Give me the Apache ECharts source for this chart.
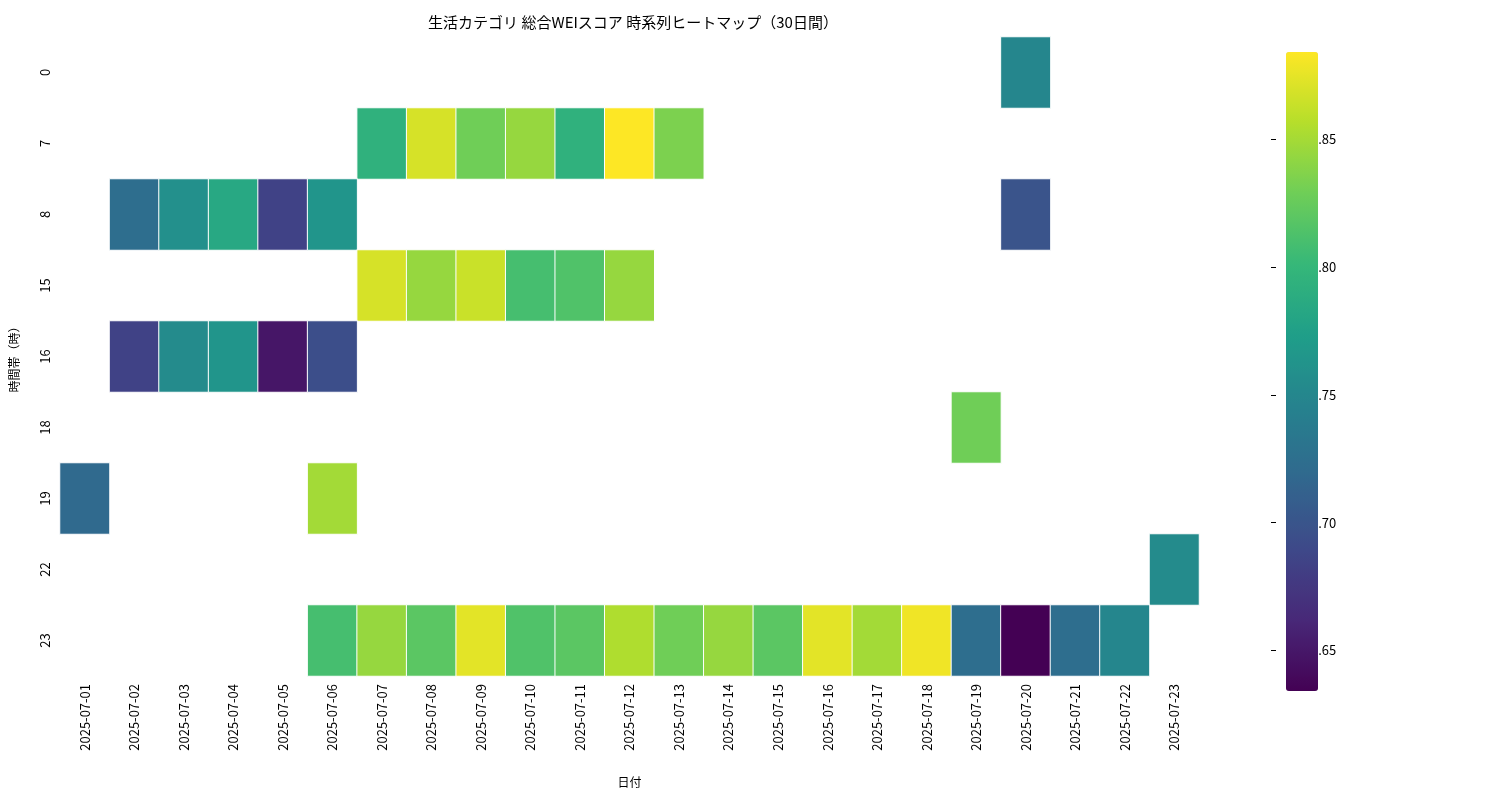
<!DOCTYPE html>
<html><head><meta charset="utf-8">
<script src="https://cdn.jsdelivr.net/npm/echarts@6/dist/echarts.min.js"></script>
<style>html,body{margin:0;background:#fff}#c{width:1500px;height:800px}</style>
</head><body><div id="c"></div>
<script>
const dates = ['2025-07-01','2025-07-02','2025-07-03','2025-07-04','2025-07-05','2025-07-06','2025-07-07','2025-07-08','2025-07-09','2025-07-10','2025-07-11','2025-07-12','2025-07-13','2025-07-14','2025-07-15','2025-07-16','2025-07-17','2025-07-18','2025-07-19','2025-07-20','2025-07-21','2025-07-22','2025-07-23'];
const hours = ['0','7','8','15','16','18','19','22','23'];
// [date, hour, value]
const row0 = [['2025-07-20',0.755]];
const row7 = [['2025-07-07',0.80],['2025-07-08',0.875],['2025-07-09',0.835],['2025-07-10',0.85],['2025-07-11',0.80],['2025-07-12',0.89],['2025-07-13',0.84]];
const row8 = [['2025-07-02',0.73],['2025-07-03',0.765],['2025-07-04',0.79],['2025-07-05',0.69],['2025-07-06',0.77],['2025-07-20',0.705]];
const row15 = [['2025-07-07',0.875],['2025-07-08',0.85],['2025-07-09',0.87],['2025-07-10',0.815],['2025-07-11',0.82],['2025-07-12',0.85]];
const row16 = [['2025-07-02',0.69],['2025-07-03',0.76],['2025-07-04',0.77],['2025-07-05',0.655],['2025-07-06',0.70]];
const row18 = [['2025-07-19',0.835]];
const row19 = [['2025-07-01',0.725],['2025-07-06',0.855]];
const row22 = [['2025-07-23',0.76]];
const row23 = [['2025-07-06',0.815],['2025-07-07',0.85],['2025-07-08',0.825],['2025-07-09',0.88],['2025-07-10',0.82],['2025-07-11',0.825],['2025-07-12',0.86],['2025-07-13',0.835],['2025-07-14',0.85],['2025-07-15',0.825],['2025-07-16',0.88],['2025-07-17',0.855],['2025-07-18',0.885],['2025-07-19',0.73],['2025-07-20',0.64],['2025-07-21',0.73],['2025-07-22',0.755]];
const rows = {'0':row0,'7':row7,'8':row8,'15':row15,'16':row16,'18':row18,'19':row19,'22':row22,'23':row23};
const colorTicks = [0.65,0.70,0.75,0.80,0.85];
const vmin = 0.64, vmax = 0.89;
const data = [];
for (const h of hours) for (const [d,v] of rows[h]) data.push([d,h,v]);
const font = 'Noto Sans CJK JP';
const chart = echarts.init(document.getElementById('c'));
chart.setOption({
  textStyle:{fontFamily:font},
  title:{text:'生活カテゴリ 総合WEIスコア 時系列ヒートマップ（30日間）',left:628,top:10,textAlign:'center',textStyle:{fontSize:15,fontWeight:'normal',color:'#000',fontFamily:font}},
  grid:[{left:57,right:301,top:37,bottom:124},{left:1271,width:32,top:37,bottom:124,show:false}],
  xAxis:[{type:'category',data:dates,gridIndex:0,name:'日付',nameLocation:'middle',nameGap:100,nameTextStyle:{color:'#000',fontSize:12},
    axisLine:{show:false},axisTick:{alignWithLabel:true,length:5,lineStyle:{color:'#000'}},splitLine:{show:false},
    axisLabel:{rotate:90,color:'#000',fontSize:13,interval:0}},
    {type:'value',gridIndex:1,show:false,min:0,max:1}],
  yAxis:[{type:'category',data:hours,inverse:true,gridIndex:0,name:'時間帯（時）',nameLocation:'middle',nameGap:40,nameRotate:90,nameTextStyle:{color:'#000',fontSize:12},
    axisLine:{show:false},axisTick:{alignWithLabel:true,length:5,lineStyle:{color:'#000'}},
    axisLabel:{rotate:90,color:'#000',fontSize:13,interval:0}},
    {type:'value',gridIndex:1,position:'right',min:vmin,max:vmax,axisLine:{show:false},splitLine:{show:false},
     axisTick:{show:true,length:5,lineStyle:{color:'#000'},customValues:colorTicks},
     axisLabel:{color:'#000',fontSize:13,customValues:colorTicks,formatter:v=>v.toFixed(2)}}],
  visualMap:{type:'continuous',min:vmin,max:vmax,calculable:false,seriesIndex:0,left:1271,top:37,itemWidth:32,itemHeight:639,text:null,showLabel:false,
    inRange:{color:['#440154','#482878','#3e4989','#31688e','#26828e','#1f9e89','#35b779','#6ece58','#b5de2b','#fde725']}},
  series:[{type:'heatmap',data:data,xAxisIndex:0,yAxisIndex:0,itemStyle:{borderColor:'#fff',borderWidth:1}}]
});
</script></body></html>
